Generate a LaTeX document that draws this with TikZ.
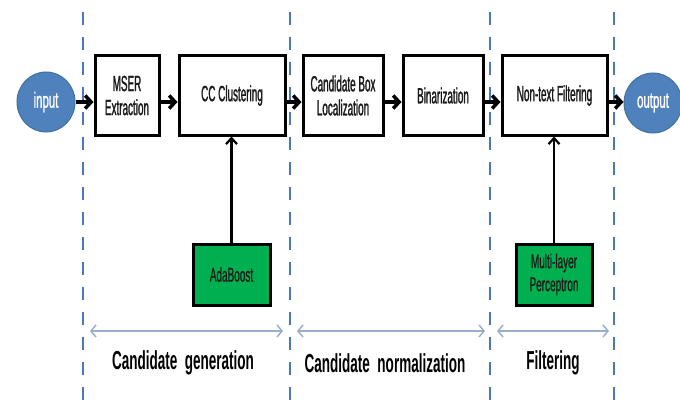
\documentclass[tikz,border=0pt]{standalone}
\usepackage{fontspec}
\newfontfamily\nf[FakeStretch=0.45,FakeBold=1.2]{Liberation Sans}
\newfontfamily\gf[FakeStretch=0.5,FakeBold=0.6]{Liberation Sans}
\newfontfamily\cf[FakeStretch=0.52,FakeBold=1]{Liberation Sans}
\newfontfamily\lf[FakeStretch=0.52]{Liberation Sans}
\usetikzlibrary{arrows.meta,shapes.geometric}
\definecolor{circfill}{HTML}{4F81BD}
\definecolor{circdraw}{HTML}{41719C}
\definecolor{dashc}{HTML}{4A78B8}
\definecolor{arrc}{HTML}{9AAECB}
\definecolor{greenc}{HTML}{00B050}
\definecolor{txtc}{HTML}{1A1A1A}
\tikzset{
  procbox/.style={draw=black, line width=3pt, fill=white, minimum height=79pt, text=txtc, align=center, inner sep=2pt, font=\nf\fontsize{22}{24}\selectfont},
  greenbox/.style={draw=black, line width=3pt, fill=greenc, minimum height=61pt, text=txtc, align=center, inner sep=2pt, font=\gf\fontsize{20}{23}\selectfont},
  termnode/.style={ellipse, draw=circdraw, line width=1pt, fill=circfill, text=white, minimum width=58pt, minimum height=60pt, inner sep=0pt, font=\cf\fontsize{22}{24}\selectfont},
  flow/.style={draw=black, line width=3.5pt, -{Straight Barb[length=6pt,width=13pt,line width=3.5pt]}},
  feed/.style={draw=black, line width=2.2pt, -{Straight Barb[length=6pt,width=11pt,line width=2.2pt]}},
  phasesep/.style={draw=dashc, line width=2pt, dash pattern=on 13pt off 12pt},
  span/.style={draw=arrc, line width=1.5pt, {Straight Barb[length=5pt,width=12pt,line width=1.5pt]}-{Straight Barb[length=5pt,width=12pt,line width=1.5pt]}},
  phaselabel/.style={font=\lf\bfseries\fontsize{26}{30}\selectfont, text=black}
}
\begin{document}
\begin{tikzpicture}[x=1pt,y=-1pt]
\useasboundingbox (0,0) rectangle (680,404);
% phase separators
\coordinate (s1t) at (82.7,12); \coordinate (s1b) at (82.7,404);
\coordinate (s2t) at (290,12); \coordinate (s2b) at (290,404);
\coordinate (s3t) at (490,12); \coordinate (s3b) at (490,404);
\coordinate (s4t) at (614,12); \coordinate (s4b) at (614,404);
\draw[phasesep] (s1t) -- (s1b);
\draw[phasesep] (s2t) -- (s2b);
\draw[phasesep] (s3t) -- (s3b);
\draw[phasesep] (s4t) -- (s4b);
% nodes
\node[termnode] (input) at (46,102) {input};
\node[procbox, minimum width=64pt] (mser) at (127,95.5) {MSER\\Extraction};
\node[procbox, minimum width=106pt] (cc) at (232,95.5) {CC Clustering};
\node[procbox, minimum width=80pt] (cand) at (343,95.5) {Candidate Box\\Localization};
\node[procbox, minimum width=80pt] (bin) at (443,95.5) {Binarization};
\node[procbox, minimum width=105pt] (nontext) at (554.5,95.5) {Non-text Filtering};
\node[termnode] (output) at (653,103) {output};
\node[greenbox, minimum width=77pt] (ada) at (231.5,274.5) {AdaBoost};
\node[greenbox, minimum width=76pt] (mlp) at (554,274.5) {Multi-layer\\Perceptron};
% flow
\draw[flow] (input.east) -- (input -| mser.west);
\draw[flow] (mser.east |- input) -- (cc.west |- input);
\draw[flow] (cc.east |- input) -- (cand.west |- input);
\draw[flow] (cand.east |- input) -- (bin.west |- input);
\draw[flow] (bin.east |- input) -- (nontext.west |- input);
\draw[flow] (nontext.east |- input) -- (output.west |- input);
\draw[feed] (ada.north) -- (ada.north |- cc.south);
\draw[feed] (mlp.north) -- (mlp.north |- nontext.south);
% spans
\coordinate (g1) at (90,331); \coordinate (g2) at (283,331);
\coordinate (n1) at (297,331); \coordinate (n2) at (485,331);
\coordinate (f1) at (497,331); \coordinate (f2) at (609,331);
\draw[span] (g1) -- (g2);
\draw[span] (n1) -- (n2);
\draw[span] (f1) -- (f2);
% labels
\node[phaselabel] (lgen) at (183,363) {Candidate\ \ generation};
\node[phaselabel] (lnorm) at (385,363) {Candidate\ \ normalization};
\node[phaselabel] (lfilt) at (553,363) {Filtering};
\end{tikzpicture}
\end{document}
